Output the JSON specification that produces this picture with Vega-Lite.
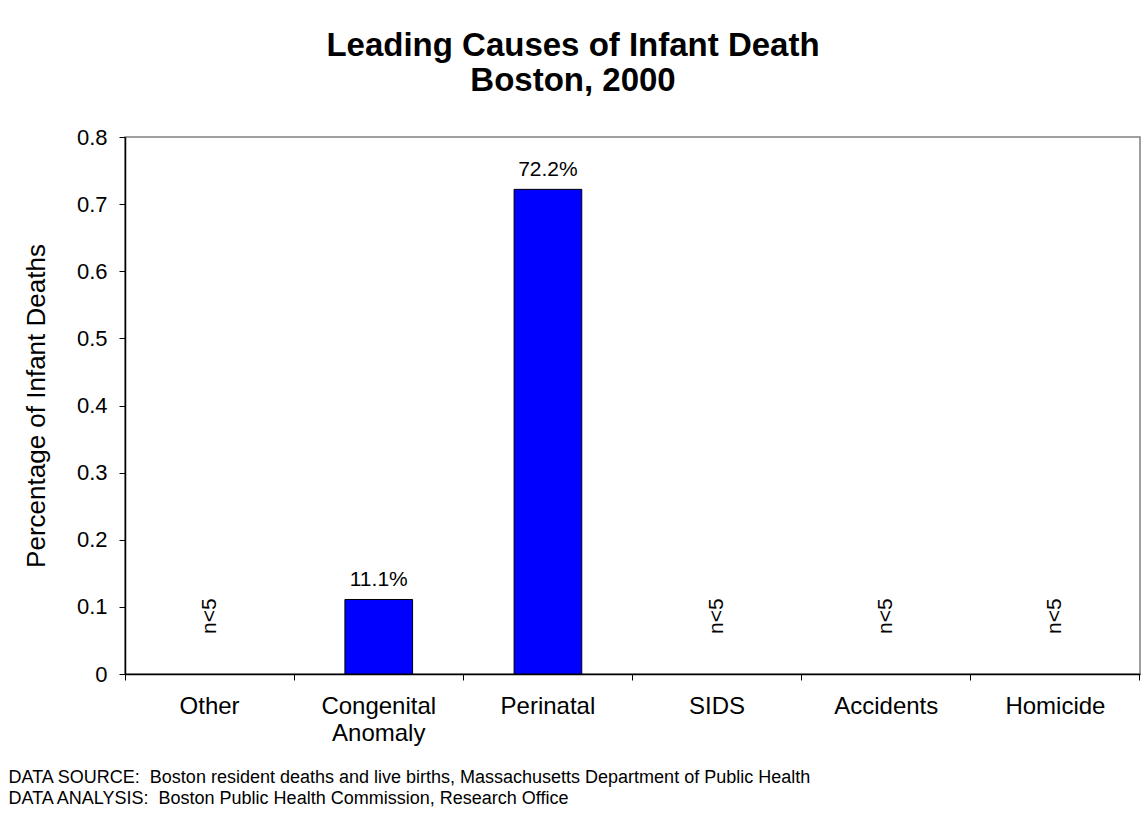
{
  "$schema": "https://vega.github.io/schema/vega-lite/v6.json",
  "width": 1015,
  "height": 537,
  "autosize": {"type": "none"},
  "padding": {"left": 125, "top": 137, "right": 6, "bottom": 153},
  "background": "white",
  "config": {
    "font": "Liberation Sans",
    "view": {"stroke": "#808080", "strokeWidth": 1.5}
  },
  "title": {
    "text": ["Leading Causes of Infant Death", "Boston, 2000"],
    "fontSize": 33,
    "fontWeight": "bold",
    "font": "Liberation Sans",
    "color": "black",
    "anchor": "middle",
    "dx": -59.5,
    "lineHeight": 35,
    "offset": 28
  },
  "data": {
    "values": [
      {"cause": "Other", "pct": null, "label": "n<5"},
      {"cause": "Congenital Anomaly", "pct": 0.111, "label": "11.1%"},
      {"cause": "Perinatal", "pct": 0.722, "label": "72.2%"},
      {"cause": "SIDS", "pct": null, "label": "n<5"},
      {"cause": "Accidents", "pct": null, "label": "n<5"},
      {"cause": "Homicide", "pct": null, "label": "n<5"}
    ]
  },
  "encoding": {
    "x": {
      "field": "cause",
      "type": "nominal",
      "sort": ["Other", "Congenital Anomaly", "Perinatal", "SIDS", "Accidents", "Homicide"],
      "scale": {"paddingInner": 0, "paddingOuter": 0},
      "axis": {
        "bandPosition": 1,
        "tickExtra": true,
        "labelAngle": 0,
        "labelFontSize": 24,
        "labelColor": "black",
        "labelPadding": 14,
        "labelLineHeight": 27,
        "labelExpr": "datum.label == 'Congenital Anomaly' ? ['Congenital', 'Anomaly'] : datum.label",
        "domainColor": "black",
        "domainWidth": 1.5,
        "tickColor": "black",
        "tickSize": 6,
        "tickWidth": 1,
        "title": ["DATA SOURCE:\u00a0 Boston resident deaths and live births, Massachusetts Department of Public Health", "DATA ANALYSIS:\u00a0 Boston Public Health Commission, Research Office"],
        "titleFontSize": 18,
        "titleFontWeight": "normal",
        "titleColor": "black",
        "titleAnchor": "start",
        "titleAlign": "left",
        "titleBaseline": "alphabetic",
        "titleLineHeight": 21,
        "titleX": -117,
        "titleY": 108
      }
    }
  },
  "layer": [
    {
      "mark": {"type": "bar", "width": {"band": 0.4}, "fill": "#0000FF", "stroke": "black", "strokeWidth": 1},
      "transform": [{"filter": "datum.pct != null"}],
      "encoding": {
        "y": {
          "field": "pct",
          "type": "quantitative",
          "scale": {"domain": [0, 0.8]},
          "axis": {
            "values": [0, 0.1, 0.2, 0.3, 0.4, 0.5, 0.6, 0.7, 0.8],
            "format": ".1~f",
            "grid": false,
            "domainColor": "black",
            "domainWidth": 1.5,
            "tickColor": "black",
            "tickSize": 6,
            "labelFontSize": 22,
            "labelColor": "black",
            "labelPadding": 12,
            "title": "Percentage of Infant Deaths",
            "titleFontSize": 26,
            "titleFontWeight": "normal",
            "titleColor": "black",
            "titlePadding": 27
          }
        }
      }
    },
    {
      "mark": {"type": "text", "fontSize": 21, "color": "black", "baseline": "bottom", "dy": -9},
      "transform": [{"filter": "datum.pct != null"}],
      "encoding": {
        "y": {"field": "pct", "type": "quantitative"},
        "text": {"field": "label"}
      }
    },
    {
      "mark": {"type": "text", "fontSize": 21, "color": "black", "angle": 270, "align": "left", "baseline": "middle", "dx": 40},
      "transform": [{"filter": "datum.pct == null"}],
      "encoding": {
        "y": {"datum": 0, "type": "quantitative"},
        "text": {"field": "label"}
      }
    }
  ]
}
